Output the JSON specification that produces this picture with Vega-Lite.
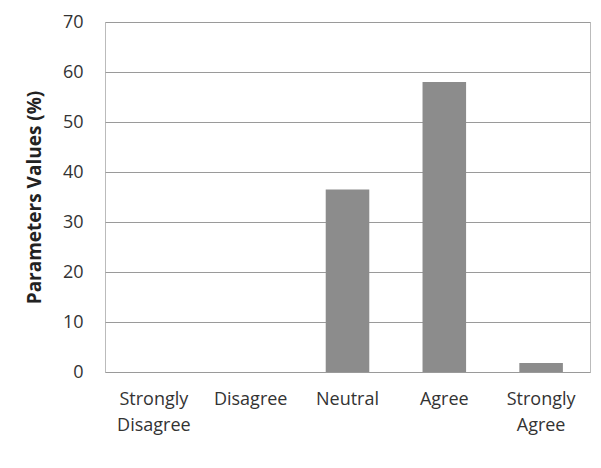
{
  "$schema": "https://vega.github.io/schema/vega-lite/v6.json",
  "autosize": "none",
  "width": 485,
  "height": 350,
  "padding": {"left": 105, "top": 22, "right": 11, "bottom": 96},
  "background": "white",
  "data": {"values": [
    {"category": "Strongly Disagree", "value": 0},
    {"category": "Disagree", "value": 0},
    {"category": "Neutral", "value": 36.5},
    {"category": "Agree", "value": 58},
    {"category": "Strongly Agree", "value": 1.8}
  ]},
  "config": {
    "font": "Open Sans",
    "view": {"stroke": "#bbbbbb", "strokeWidth": 1}
  },
  "mark": {"type": "bar", "color": "#8c8c8c"},
  "encoding": {
    "x": {
      "field": "category", "type": "nominal", "sort": null,
      "scale": {"paddingInner": 0.55, "paddingOuter": 0.28},
      "axis": {
        "title": null, "labelAngle": 0, "ticks": false, "domain": false,
        "labelFontSize": 18, "labelColor": "#333333", "labelPadding": 18,
        "labelExpr": "split(datum.label, ' ')", "labelLineHeight": 26
      }
    },
    "y": {
      "field": "value", "type": "quantitative",
      "scale": {"domain": [0, 70]},
      "axis": {
        "values": [0, 10, 20, 30, 40, 50, 60, 70],
        "title": "Parameters Values (%)", "titleFontSize": 19, "titleFontWeight": "bold",
        "titleColor": "#222222", "titlePadding": 18,
        "labelFontSize": 18, "labelColor": "#333333", "labelPadding": 22,
        "ticks": false, "domain": false,
        "grid": true, "gridColor": "#9a9a9a", "gridWidth": 1.2
      }
    }
  }
}
